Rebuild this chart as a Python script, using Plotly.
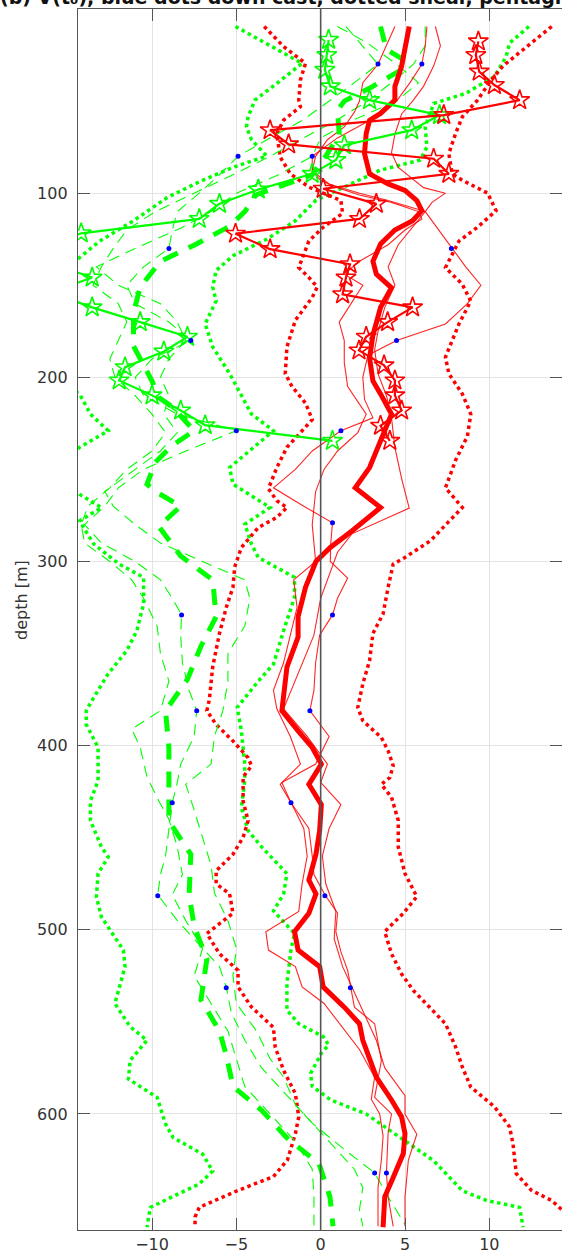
import plotly.graph_objects as go

# ---------------- data (depth in m, velocity-like values) ----------------
rd_right_depth = [9.5,20,31,40,49.5,58.5,67.6,78.5,89.5,93,100,109.5,118.5,126,137,140.4,149.5,158.6,171,180,189,198,209,220,232,245,260,270.7,280,288.8,297.8,301.4,314,328.5,339,353.8,366.4,379.3,386.5,395.6,402.8,411,417.3,421,428,440.7,455,469.5,482,491,501,513,524,533,551,563.6,574.5,585.4,596,607,616,632.4,641.5,647,652,660]
rd_right_val = [13.7,12.3,10.8,10.0,9.3,8.4,8.0,7.6,7.8,8.4,9.9,10.4,9.3,8.2,7.6,7.4,8.4,8.9,8.2,7.8,7.4,7.6,8.4,8.9,8.7,8.0,7.4,8.4,7.4,6.5,5.0,4.3,4.0,3.7,3.1,2.9,2.5,2.2,2.5,3.6,4.0,4.3,4.1,3.6,4.2,4.6,4.6,5.0,5.7,4.9,3.8,4.2,4.8,5.5,7.4,8.0,8.4,8.9,10.3,11.2,11.4,11.6,12.5,13.7,14.3,15.5]

rd_left_depth = [9.5,20.4,29.5,38.5,49.5,53,60.4,67.6,80.4,89.5,96.7,104,111,118.5,126,137,140.4,145.8,151,156.6,169,183.5,198,205,214,223,229,238,249,260.5,267,270.7,276,281.6,292.4,303,314,325,339,357,375,381,388.5,397.5,406.6,411,417,430,440.7,449.8,459,468,475,480.5,491,502,513,522,531,542,553,563.6,576.3,589,601.6,610.7,625,634,641.5,650.7,656,661]
rd_left_val = [-3.35,-2.2,-0.9,-1.2,-1.3,-1.2,-2.2,-2.6,-2.4,-1.8,-0.7,1.2,1.3,0.15,-0.7,-1.2,-1.3,-0.7,-0.2,-0.5,-1.5,-2.0,-2.1,-1.7,-0.9,-0.5,-1.1,-2.0,-2.6,-3.1,-2.6,-2.0,-2.6,-3.7,-4.7,-5.1,-5.2,-5.6,-6.0,-6.4,-6.6,-6.75,-6.2,-5.2,-4.3,-4.1,-4.6,-4.6,-4.3,-4.6,-5.2,-6.2,-6.2,-5.4,-5.2,-6.75,-6.0,-4.9,-4.9,-4.1,-2.8,-2.7,-2.2,-1.5,-1.3,-1.5,-1.97,-2.8,-4.9,-7.2,-7.45,-7.45]

gd_a_depth = [9.5,29.5,40.4,49.5,58.5,64,71,79.8,86,93.4,102.4,115,126,135,150,180,200,209,220,229,238,250,263.5,270.7,278,290.6,301.4,308.6,323,337.6,348.4,361,373.7,381,388.5,401,419,430,440.7,455,460.4,469.5,482,493,511,520,540,552.6,560,571,581,591,605.4,612.8,621.8,631,638,650.7,661.5]
gd_a_val = [-5.05,-1.1,-2.6,-3.9,-4.3,-4.4,-4.1,-3.2,-5.2,-7.1,-9.1,-11.1,-13.1,-14.3,-16,-17,-16,-14.3,-13.65,-12.6,-14.3,-15.5,-14.3,-13.0,-14.3,-13.45,-11.95,-10.5,-10.5,-10.9,-11.5,-12.6,-13.45,-13.9,-13.9,-13.2,-13.2,-13.65,-13.65,-13.0,-12.6,-13.2,-13.3,-13.0,-11.7,-11.6,-12.2,-11.3,-10.3,-11.3,-11.4,-9.7,-9.2,-8.75,-7.0,-6.4,-7.2,-10.1,-10.3]

gd_b_depth = [9.5,18.5,25.8,36.7,45.8,51.3,64,75,82,87.6,104,115,125,134,142,151,158.5,171,183.5,198,220,229,249,258,270.7,279.8,290.6,297.8,308.6,319.4,337.6,355.7,365,379.3,392,410,419,433.6,446.2,455,469.5,480.5,489.7,502,511,529,543.6,551,558,562.5,567,578,585,592.4,600,612.8,625.4,641.7,647,650.7,661.5]
gd_b_val = [12.35,11.2,11.0,10.3,8.6,6.7,6.2,6.3,5.9,3.5,-0.3,-1.5,-3.2,-5.2,-6.2,-6.4,-6.2,-6.85,-6.4,-5.4,-4.1,-2.8,-5.4,-5.2,-3.0,-4.5,-4.1,-3.7,-1.55,-1.55,-2.2,-2.8,-3.7,-4.95,-4.7,-4.5,-4.5,-4.7,-4.3,-3.5,-2.0,-2.2,-2.8,-1.55,-1.76,-2.0,-2.0,-1.3,0.15,0.47,0.04,-0.6,-0.5,0.6,2.7,4.7,6.7,8.4,9.85,11.8,12.0]

r_mean_depth = [9.5,22,31,36.7,42,49.5,56.7,60.4,67.6,78.5,89.5,95,98.5,104,109.5,115,120,127.6,137,144,151.4,162,177,189.6,202,209,220,234.5,249,260,270.7,283.4,292.4,300,314,330,341,357.3,375,381,392,401,410,421,432,446,459,473,480.5,491,501,511,520,531,542,551,560,580,592.4,601.6,610.7,621.5,634.5,645,661.5]
r_mean_val = [5.25,5.0,4.8,4.6,4.4,4.4,3.55,2.9,2.7,2.6,2.9,4.0,5.0,5.7,6.0,5.45,4.4,3.55,3.1,3.3,4.2,3.55,3.1,2.9,3.1,3.55,4.2,3.55,2.9,2.05,3.55,1.85,0.57,-0.28,-0.9,-1.34,-1.34,-2.0,-2.2,-2.3,-1.34,-0.5,0.04,-0.7,0.04,-0.06,-0.28,-0.7,-0.28,-0.7,-1.55,-1.34,-0.06,0.15,1.4,2.3,2.5,3.3,4.2,4.8,5.0,4.9,4.3,3.8,3.7]

rt_a_depth = [9.5,18,30,40,50,56,64,71,80,88,93,97,101,105,110,114,120,128,137,144,150,160,170,180,192,205,220,230,240,250,262,280,300,310,325,340,355,370,380,395,410,421,432,445,460,475,490,501,511,520,531,540,552,565,580,592,600,612,625,640,661]
rt_a_val = [4.4,4.0,3.4,2.5,2.3,2.0,1.4,0.4,-0.3,-0.5,0.0,1.0,2.3,4.2,5.8,6.0,5.0,4.0,2.3,1.4,2.5,1.8,1.1,1.4,1.4,1.6,2.7,2.2,1.0,0.2,-0.3,-0.5,-0.3,-1.6,-1.4,-1.8,-2.2,-2.8,-2.6,-1.8,-1.2,-2.4,-1.7,-1.0,-0.8,-1.1,-1.3,-3.25,-3.1,-1.5,-1.1,0.2,1.2,2.3,3.2,3.0,3.5,3.7,3.6,3.4,3.4]

rt_b_depth = [9.5,20,30,40,50,60,70,80,88,95,100,104,110,120,130,140,150,160,171,180,188,200,212,222,229,240,250,260,270,279,290,300,309,320,329,340,355,370,381,395,410,420,431,445,460,470,481,491,501,512,522,531,542,551,571,591,600,610,632,645,661]
rt_b_val = [6.3,6.2,6.0,5.3,4.5,3.0,1.0,-0.5,-0.5,0.5,2.3,4.0,6.2,7.0,7.75,8.6,9.5,8.7,7.4,4.5,2.8,2.5,2.6,3.1,1.2,-0.5,-1.5,-2.8,-1.0,0.7,0.6,0.57,1.6,1.0,0.7,-0.06,-0.3,-0.4,-0.64,0.5,-0.3,-2.3,-1.76,-0.7,-0.5,-0.4,0.25,1.0,0.9,1.2,1.6,1.76,2.0,3.2,3.6,3.2,4.2,4.0,3.9,4.0,4.3]

rt_c_depth = [9.5,20,31,42,50,57,68,78,86,97,100,105,110,118,128,140,150,162,175,185,198,210,222,238,255,271,285,295,305,320,340,360,380,395,410,420,432,445,460,475,490,505,520,540,560,575,590,600,611,625,645,661]
rt_c_val = [6.8,7.1,6.7,6.1,5.45,4.8,4.4,4.2,4.6,6.1,7.4,6.6,6.2,5.5,4.6,4.0,4.4,3.8,3.4,3.2,3.4,3.9,4.2,4.4,4.8,5.25,1.85,1.0,0.6,0.0,-0.4,-1.3,-2.2,-0.8,0.4,0.0,1.2,0.5,0.1,0.3,0.9,0.8,1.3,2.3,3.3,3.8,5.0,5.0,5.7,5.2,5.0,5.0]

g_mean_depth = [9.5,22,28,33,42,50,55,68,80,90,101,110,118,128,137,151,165,183,202,211,216,229,237,246,258,262,270,281,297,310,330,346,364,381,401,419,441,459,481,498,516,538,555,568,585,598,613,627,645,661]
g_mean_val = [3.55,3.9,5.0,4.8,3.1,1.4,1.0,1.1,0.3,-0.5,-3.85,-4.5,-5.4,-7.45,-9.5,-10.7,-11.1,-11.1,-10.0,-9.6,-8.8,-7.5,-8.8,-9.8,-10.3,-9.8,-8.3,-9.6,-8.3,-6.4,-6.2,-7.1,-7.9,-9.2,-9.0,-9.0,-9.0,-7.7,-7.8,-7.5,-6.75,-7.1,-6.0,-5.6,-5.2,-3.5,-2.0,-0.1,0.55,0.73]

gt_a_depth = [9.5,18,30,40,50,60,70,80,90,100,110,119,130,140,150,160,170,180,190,200,210,220,230,240,250,262,270,280,290,300,310,320,335,350,365,381,395,410,421,435,450,465,480,495,510,525,540,555,570,580,595,610,620,630,640,652,661]
gt_a_val = [1.0,2.7,4.5,5.8,4.5,2.0,0.0,-0.5,-2.5,-5.0,-6.5,-8.3,-11.0,-13.3,-12.0,-9.5,-8.5,-8.0,-9.0,-9.5,-9.0,-9.3,-8.5,-9.5,-11.0,-12.8,-12.3,-11.0,-9.5,-7.0,-4.5,-4.2,-4.5,-5.5,-5.5,-5.8,-6.3,-6.5,-8.0,-7.5,-7.0,-6.5,-6.3,-5.5,-5.0,-5.2,-5.0,-3.8,-3.0,-2.2,-1.5,0.0,1.0,2.0,2.5,2.3,2.5]

gt_b_depth = [9.5,20,30,40,50,60,70,80,90,100,110,120,130,140,150,160,170,180,190,200,210,220,229,240,250,260,270,280,290,300,310,320,329,340,355,370,381,395,410,420,431,445,460,470,481,495,510,520,531,545,560,575,590,605,620,632,645,660]
gt_b_val = [1.5,2.5,3.4,2.0,0.5,-1.0,-3.0,-4.9,-6.0,-7.2,-8.5,-8.8,-9.0,-10.5,-11.5,-11.0,-9.0,-7.7,-10.0,-11.0,-10.5,-8.5,-5.0,-8.0,-10.5,-12.0,-12.8,-14.0,-13.0,-11.0,-9.5,-8.8,-8.25,-8.3,-8.2,-7.8,-7.35,-7.5,-8.3,-8.5,-8.8,-9.0,-9.2,-9.5,-9.66,-8.5,-7.0,-6.0,-5.6,-5.3,-4.5,-3.5,-2.0,-0.5,1.5,3.2,4.0,5.0]

gt_c_depth = [9.5,20,30,40,50,60,70,80,90,100,110,120,130,140,150,160,170,180,190,200,210,220,230,240,250,260,270,280,290,300,310,320,335,350,365,381,391,401,417,430,440,455,470,481,495,510,525,540,555,570,585,600,615,630,645,661]
gt_c_val = [6.2,6.2,5.5,4.2,2.8,1.0,-1.0,-3.0,-5.2,-7.5,-9.8,-11.5,-12.3,-13.0,-13.5,-12.0,-11.5,-12.0,-12.5,-12.2,-11.0,-10.0,-9.2,-10.0,-11.5,-12.5,-13.8,-14.2,-14.0,-12.5,-11.2,-10.5,-9.7,-9.5,-9.0,-9.5,-11.2,-10.7,-10.3,-9.6,-9.0,-8.5,-8.2,-8.8,-8.0,-7.0,-7.5,-6.5,-5.5,-5.0,-4.5,-3.0,-1.5,-0.5,-0.4,-0.4]

rs_depth = [17.6,25,34,41.3,49.5,57.6,65.8,73.5,81.3,89.5,97.6,105.8,114,122,130.4,138.6,145.8,154.9,162,170,178,185.4,193.5,201.7,209.8,218,226.3,234.5]
rs_val = [9.35,9.2,9.4,10.3,11.8,7.3,-3.0,-1.9,6.7,7.6,0.15,3.3,2.3,-5.05,-3.0,1.74,1.5,1.3,5.45,3.97,2.7,2.27,3.76,4.4,4.4,4.8,3.55,4.1]

gs_depth = [16.7,25,33,42,49.5,57.6,65.8,74,82,89.5,98,105.8,114,121.8,130,138,145.8,154,162,170,178,186,194.5,201.7,209.8,218,226,234.5]
gs_val = [0.47,0.36,0.25,0.57,2.9,7.05,5.4,1.4,0.9,-0.5,-3.7,-6.0,-7.2,-14.2,-17,-16,-13.55,-16,-13.55,-10.7,-7.9,-9.3,-11.6,-11.95,-10.0,-8.3,-6.85,0.7]

bd_depth = [29.8,29.8,80,80,130,130,180,180,229,229,279,329,329,381,381,431,431,481.5,481.5,531.5,531.5,632,632]
bd_val = [3.4,6.0,-4.9,-0.5,-9.0,7.75,-7.7,4.5,-5.0,1.2,0.7,-8.25,0.7,-7.35,-0.64,-8.8,-1.76,-9.66,0.25,-5.6,1.76,3.2,3.9]

x_ticks = [-10, -5, 0, 5, 10]
y_ticks = [0, 100, 200, 300, 400, 500, 600]
x_range = [-14.39, 14.31]
y_range = [663, 0]

GREEN = "#00ff00"
RED = "#ff0000"
BLUE = "#0000ff"

fig = go.Figure()

def line(x, y, color, width, dash="solid", opacity=1.0):
    fig.add_trace(go.Scatter(x=x, y=y, mode="lines", opacity=opacity,
                             line=dict(color=color, width=width, dash=dash),
                             hoverinfo="skip", showlegend=False))

# dotted shear envelopes
line(gd_a_val, gd_a_depth, GREEN, 3.5, "dot")
line(gd_b_val, gd_b_depth, GREEN, 3.5, "dot")
line(rd_left_val, rd_left_depth, RED, 3.5, "dot")
line(rd_right_val, rd_right_depth, RED, 3.5, "dot")

# individual casts
for gx, gy in [(gt_a_val, gt_a_depth), (gt_b_val, gt_b_depth), (gt_c_val, gt_c_depth)]:
    line(gx, gy, GREEN, 1.1, "11px,7px")
for rx, ry in [(rt_a_val, rt_a_depth), (rt_b_val, rt_b_depth), (rt_c_val, rt_c_depth)]:
    line(rx, ry, RED, 1.1, "solid", 0.85)

# means
line(g_mean_val, g_mean_depth, GREEN, 5, "16px,12px")
line(r_mean_val, r_mean_depth, RED, 5)

# pentagram lines
fig.add_trace(go.Scatter(x=gs_val, y=gs_depth, mode="lines+markers",
                         line=dict(color=GREEN, width=2.2),
                         marker=dict(symbol="star-open", size=15, color=GREEN,
                                     line=dict(width=1.6, color=GREEN)),
                         cliponaxis=True, hoverinfo="skip", showlegend=False))
fig.add_trace(go.Scatter(x=rs_val, y=rs_depth, mode="lines+markers",
                         line=dict(color=RED, width=2.2),
                         marker=dict(symbol="star-open", size=15, color=RED,
                                     line=dict(width=1.6, color=RED)),
                         cliponaxis=True, hoverinfo="skip", showlegend=False))

# blue dots (down cast)
fig.add_trace(go.Scatter(x=bd_val, y=bd_depth, mode="markers",
                         marker=dict(color=BLUE, size=5),
                         hoverinfo="skip", showlegend=False))

# dummy trace to create right-side tick axis
fig.add_trace(go.Scatter(x=[None], y=[None], yaxis="y2", showlegend=False))

fig.add_shape(type="line", xref="x", yref="paper", x0=0, x1=0, y0=0, y1=1,
              line=dict(color="#555555", width=1.6), layer="above")

axis_font = dict(family="DejaVu Sans", size=16, color="#333333")
fig.update_layout(
    width=562, height=1256, autosize=False,
    paper_bgcolor="white", plot_bgcolor="white",
    margin=dict(l=78, r=0, t=9, b=26, autoexpand=False),
    xaxis=dict(range=x_range, tickvals=x_ticks, ticks="inside", ticklen=12,
               tickcolor="#555555", showline=True, linecolor="#555555", linewidth=1.3,
               mirror="ticks", showgrid=True, gridcolor="#e3e3e3", gridwidth=1,
               zeroline=False, tickfont=axis_font, ticklabelstandoff=0, automargin=False),
    yaxis=dict(range=y_range, tickvals=y_ticks, ticks="inside", ticklen=12,
               tickcolor="#555555", showline=True, linecolor="#555555", linewidth=1.3,
               showgrid=True, gridcolor="#e3e3e3", gridwidth=1, zeroline=False,
               tickfont=axis_font, ticklabelstandoff=6, automargin=False),
    yaxis2=dict(range=y_range, tickvals=y_ticks, ticks="inside", ticklen=12,
                tickcolor="#555555", overlaying="y", side="right", showline=False,
                showgrid=False, zeroline=False, showticklabels=False, automargin=False),
    annotations=[
        dict(text="depth [m]", xref="paper", yref="paper", x=-56/484, y=(1256-26-600)/1221,
             xanchor="center", yanchor="middle", textangle=-90, showarrow=False,
             font=dict(family="DejaVu Sans", size=16, color="#333333")),
        dict(text="<b>(b) V(t₀), blue dots down cast, dotted shear, pentagram up cast</b>",
             xref="paper", yref="paper", x=-80/484, y=1, xanchor="left", yanchor="bottom",
             yshift=-1, showarrow=False,
             font=dict(family="DejaVu Sans", size=19, color="#111111")),
    ],
)

fig.write_html("out.html",
               config={"displayModeBar": False, "responsive": False},
               post_script="document.body.style.margin='0px';document.body.style.padding='0px';document.body.style.overflow='hidden';")
